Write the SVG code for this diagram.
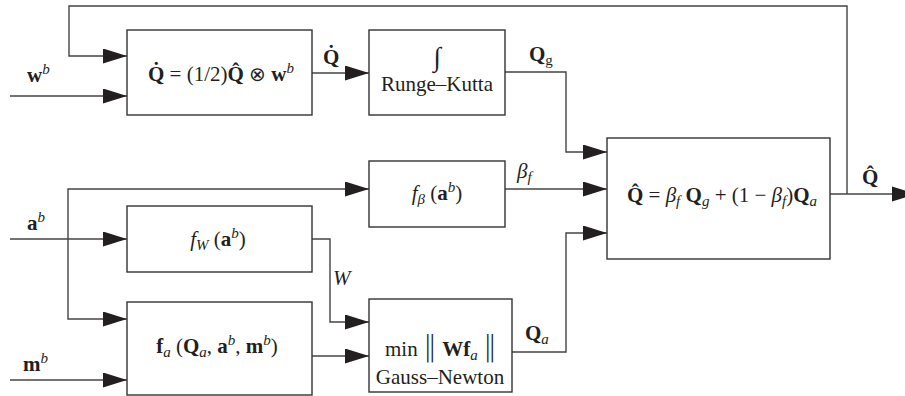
<svg xmlns="http://www.w3.org/2000/svg" width="905" height="396" viewBox="0 0 905 396">
<defs>
<style>
.box{fill:#fff;stroke:#333;stroke-width:1.4}
.ln{fill:none;stroke:#444;stroke-width:1.4}
.ah{fill:#231f20}
text{font-family:"Liberation Serif","Times New Roman",serif;font-size:21px;fill:#231f20}
.c{text-anchor:middle}
.b{font-weight:bold}
.i{font-style:italic}
.s{font-size:15px}
.bar{font-size:28px;font-family:"DejaVu Sans ExtraLight","DejaVu Sans",sans-serif;font-weight:200}
.ot{font-family:"DejaVu Sans ExtraLight","DejaVu Sans",sans-serif;font-size:20px;font-weight:200}
</style>
<marker id="arr" markerUnits="userSpaceOnUse" markerWidth="24" markerHeight="15" refX="24" refY="7.5" orient="auto" viewBox="0 0 24 15">
<path class="ah" d="M0,0 L24,7.5 L0,15 Z"/>
</marker>
</defs>
<rect width="905" height="396" fill="#fff"/>
<g id="connectors">
<path class="ln" d="M847,194 V6 H69 V56 H127" marker-end="url(#arr)"/>
<path class="ln" d="M10,96 H127" marker-end="url(#arr)"/>
<path class="ln" d="M312,73 H369" marker-end="url(#arr)"/>
<path class="ln" d="M505,72 H566 V152 H607" marker-end="url(#arr)"/>
<path class="ln" d="M10,239 H127" marker-end="url(#arr)"/>
<path class="ln" d="M68,239 V189 H369" marker-end="url(#arr)"/>
<path class="ln" d="M68,239 V319 H127" marker-end="url(#arr)"/>
<path class="ln" d="M505,189 H607" marker-end="url(#arr)"/>
<path class="ln" d="M312,239 H330 V322 H369" marker-end="url(#arr)"/>
<path class="ln" d="M312,356 H369" marker-end="url(#arr)"/>
<path class="ln" d="M10,380 H127" marker-end="url(#arr)"/>
<path class="ln" d="M512,352 H566 V233 H607" marker-end="url(#arr)"/>
<path class="ln" d="M830,194 H893"/>
<polygon class="ah" points="892,186.5 905,190.6 905,197.4 892,201.5"/>
<text x="27" y="82"><tspan class="b">w</tspan><tspan class="i s" dy="-8">b</tspan></text>
<text x="323" y="64" class="b">Q̇</text>
<text x="529" y="61"><tspan class="b">Q</tspan><tspan class="s" dy="4">g</tspan></text>
<text x="27" y="230"><tspan class="b">a</tspan><tspan class="i s" dy="-8">b</tspan></text>
<text x="517" y="178"><tspan class="i">β</tspan><tspan class="i s" dy="4">f</tspan></text>
<text x="333" y="285" class="i">W</text>
<text x="23" y="371"><tspan class="b">m</tspan><tspan class="i s" dy="-8">b</tspan></text>
<text x="525" y="340"><tspan class="b">Q</tspan><tspan class="i s" dy="4">a</tspan></text>
<text x="862" y="184" class="b">Q̂</text>
</g>
<g id="node-quat-deriv">
<rect class="box" x="127" y="30" width="185" height="85"/>
<text class="c" x="221" y="81"><tspan class="b">Q̇</tspan> = (1/2)<tspan class="b">Q̂</tspan> <tspan class="ot">⊗</tspan> <tspan class="b">w</tspan><tspan class="i s" dy="-8">b</tspan></text>
</g>
<g id="node-runge-kutta">
<rect class="box" x="369" y="30" width="136" height="85"/>
<text class="c" x="437" y="66" style="font-size:27px">∫</text>
<text class="c" x="437" y="91">Runge–Kutta</text>
</g>
<g id="node-fbeta">
<rect class="box" x="369" y="161" width="136" height="66"/>
<text class="c" x="437" y="200"><tspan class="i">f</tspan><tspan class="i s" dy="4">β</tspan><tspan dy="-4"> (</tspan><tspan class="b">a</tspan><tspan class="i s" dy="-8">b</tspan><tspan dy="8">)</tspan></text>
</g>
<g id="node-fw">
<rect class="box" x="127" y="206" width="185" height="66"/>
<text class="c" x="218" y="246"><tspan class="i">f</tspan><tspan class="i s" dy="4">W</tspan><tspan dy="-4"> (</tspan><tspan class="b">a</tspan><tspan class="i s" dy="-8">b</tspan><tspan dy="8">)</tspan></text>
</g>
<g id="node-fa">
<rect class="box" x="127" y="302" width="185" height="93"/>
<text class="c" x="217" y="353"><tspan class="b">f</tspan><tspan class="i s" dy="4">a</tspan><tspan dy="-4"> (</tspan><tspan class="b">Q</tspan><tspan class="i s" dy="4">a</tspan><tspan dy="-4">, </tspan><tspan class="b">a</tspan><tspan class="i s" dy="-8">b</tspan><tspan dy="8">, </tspan><tspan class="b">m</tspan><tspan class="i s" dy="-8">b</tspan><tspan dy="8">)</tspan></text>
</g>
<g id="node-gauss-newton">
<rect class="box" x="369" y="299" width="143" height="93"/>
<text class="c" x="441" y="356">min <tspan class="bar">‖</tspan> <tspan class="b">Wf</tspan><tspan class="i s" dy="4">a</tspan><tspan dy="-4"> </tspan><tspan class="bar">‖</tspan></text>
<text class="c" x="440" y="384">Gauss–Newton</text>
</g>
<g id="node-fusion">
<rect class="box" x="607" y="138" width="223" height="121"/>
<text class="c" x="722" y="202"><tspan class="b">Q̂</tspan> = <tspan class="i">β</tspan><tspan class="i s" dy="4">f</tspan><tspan dy="-4"> </tspan><tspan class="b">Q</tspan><tspan class="i s" dy="4">g</tspan><tspan dy="-4"> + (1 − </tspan><tspan class="i">β</tspan><tspan class="i s" dy="4">f</tspan><tspan dy="-4">)</tspan><tspan class="b">Q</tspan><tspan class="i s" dy="4">a</tspan></text>
</g>
</svg>
